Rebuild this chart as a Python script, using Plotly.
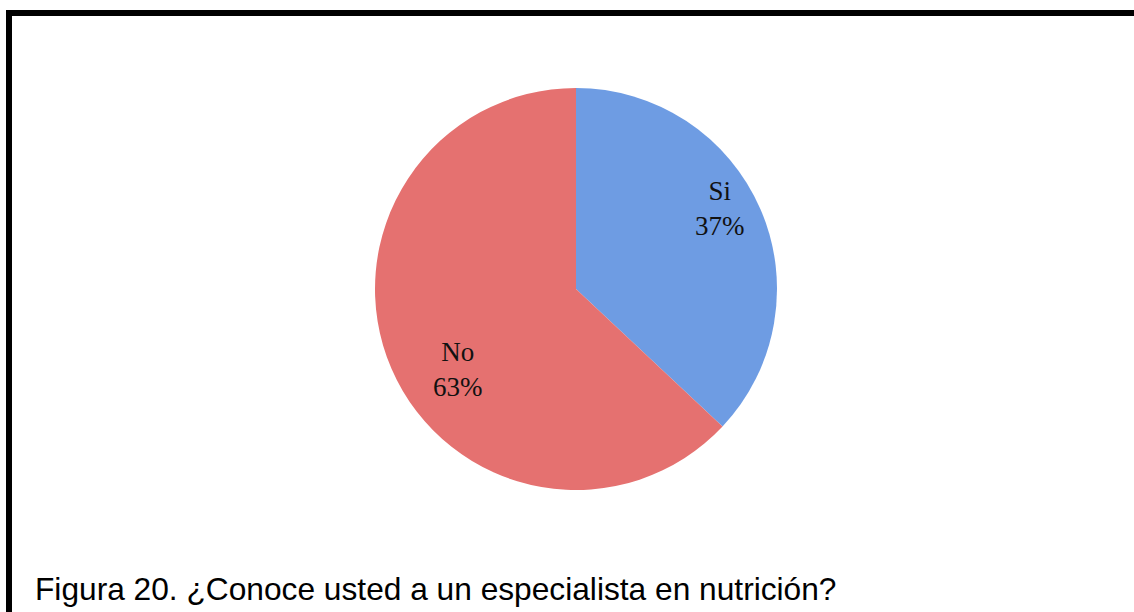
import math
import plotly.graph_objects as go

labels = ["Si", "No"]
values = [37, 63]
colors = ["#6E9CE3", "#E57170"]
caption = "Figura 20. ¿Conoce usted a un especialista en nutrición?"

W, H = 1134, 612
cx, cy, r = 576, 289, 201

# label placement (style): angular offset from slice middle (deg, clockwise) and radial fraction
label_style = [(-6, 0.82), (-11, 0.71)]

fig = go.Figure(go.Pie(
    labels=labels,
    values=values,
    sort=False,
    direction="clockwise",
    rotation=0,
    marker=dict(colors=colors, line=dict(width=0)),
    textinfo="none",
    hoverinfo="label+percent",
    showlegend=False,
    domain=dict(x=[(cx - r) / W, (cx + r) / W], y=[1 - (cy + r) / H, 1 - (cy - r) / H]),
))

annotations = []
total = sum(values)
start = 0.0
for lab, v, (doff, frac) in zip(labels, values, label_style):
    span = v / total * 360.0
    mid = math.radians(start + span / 2 + doff)
    x = cx + frac * r * math.sin(mid)
    y = cy - frac * r * math.cos(mid)
    annotations.append(dict(
        text=f"{lab}<br>{round(v / total * 100)}%", xref="paper", yref="paper",
        x=x / W, y=1 - y / H, xanchor="center", yanchor="middle", showarrow=False,
        font=dict(family="Liberation Serif, DejaVu Serif, serif", size=27, color="#111111"),
    ))
    start += span

annotations.append(dict(
    text=caption, xref="paper", yref="paper", x=33 / W, y=1 - 589 / H,
    xanchor="left", yanchor="middle", showarrow=False,
    font=dict(family="Liberation Sans, Arial, sans-serif", size=31.7, color="black"),
))

fig.update_layout(
    width=W, height=H,
    margin=dict(l=0, r=0, t=0, b=0),
    paper_bgcolor="white",
    plot_bgcolor="white",
    shapes=[
        dict(type="line", xref="paper", yref="paper", x0=9 / W, x1=9 / W, y0=0, y1=1 - 10 / H,
             line=dict(color="black", width=6)),
        dict(type="line", xref="paper", yref="paper", x0=6 / W, x1=1, y0=1 - 13 / H, y1=1 - 13 / H,
             line=dict(color="black", width=6)),
    ],
    annotations=annotations,
)

fig.write_html("out.html")
